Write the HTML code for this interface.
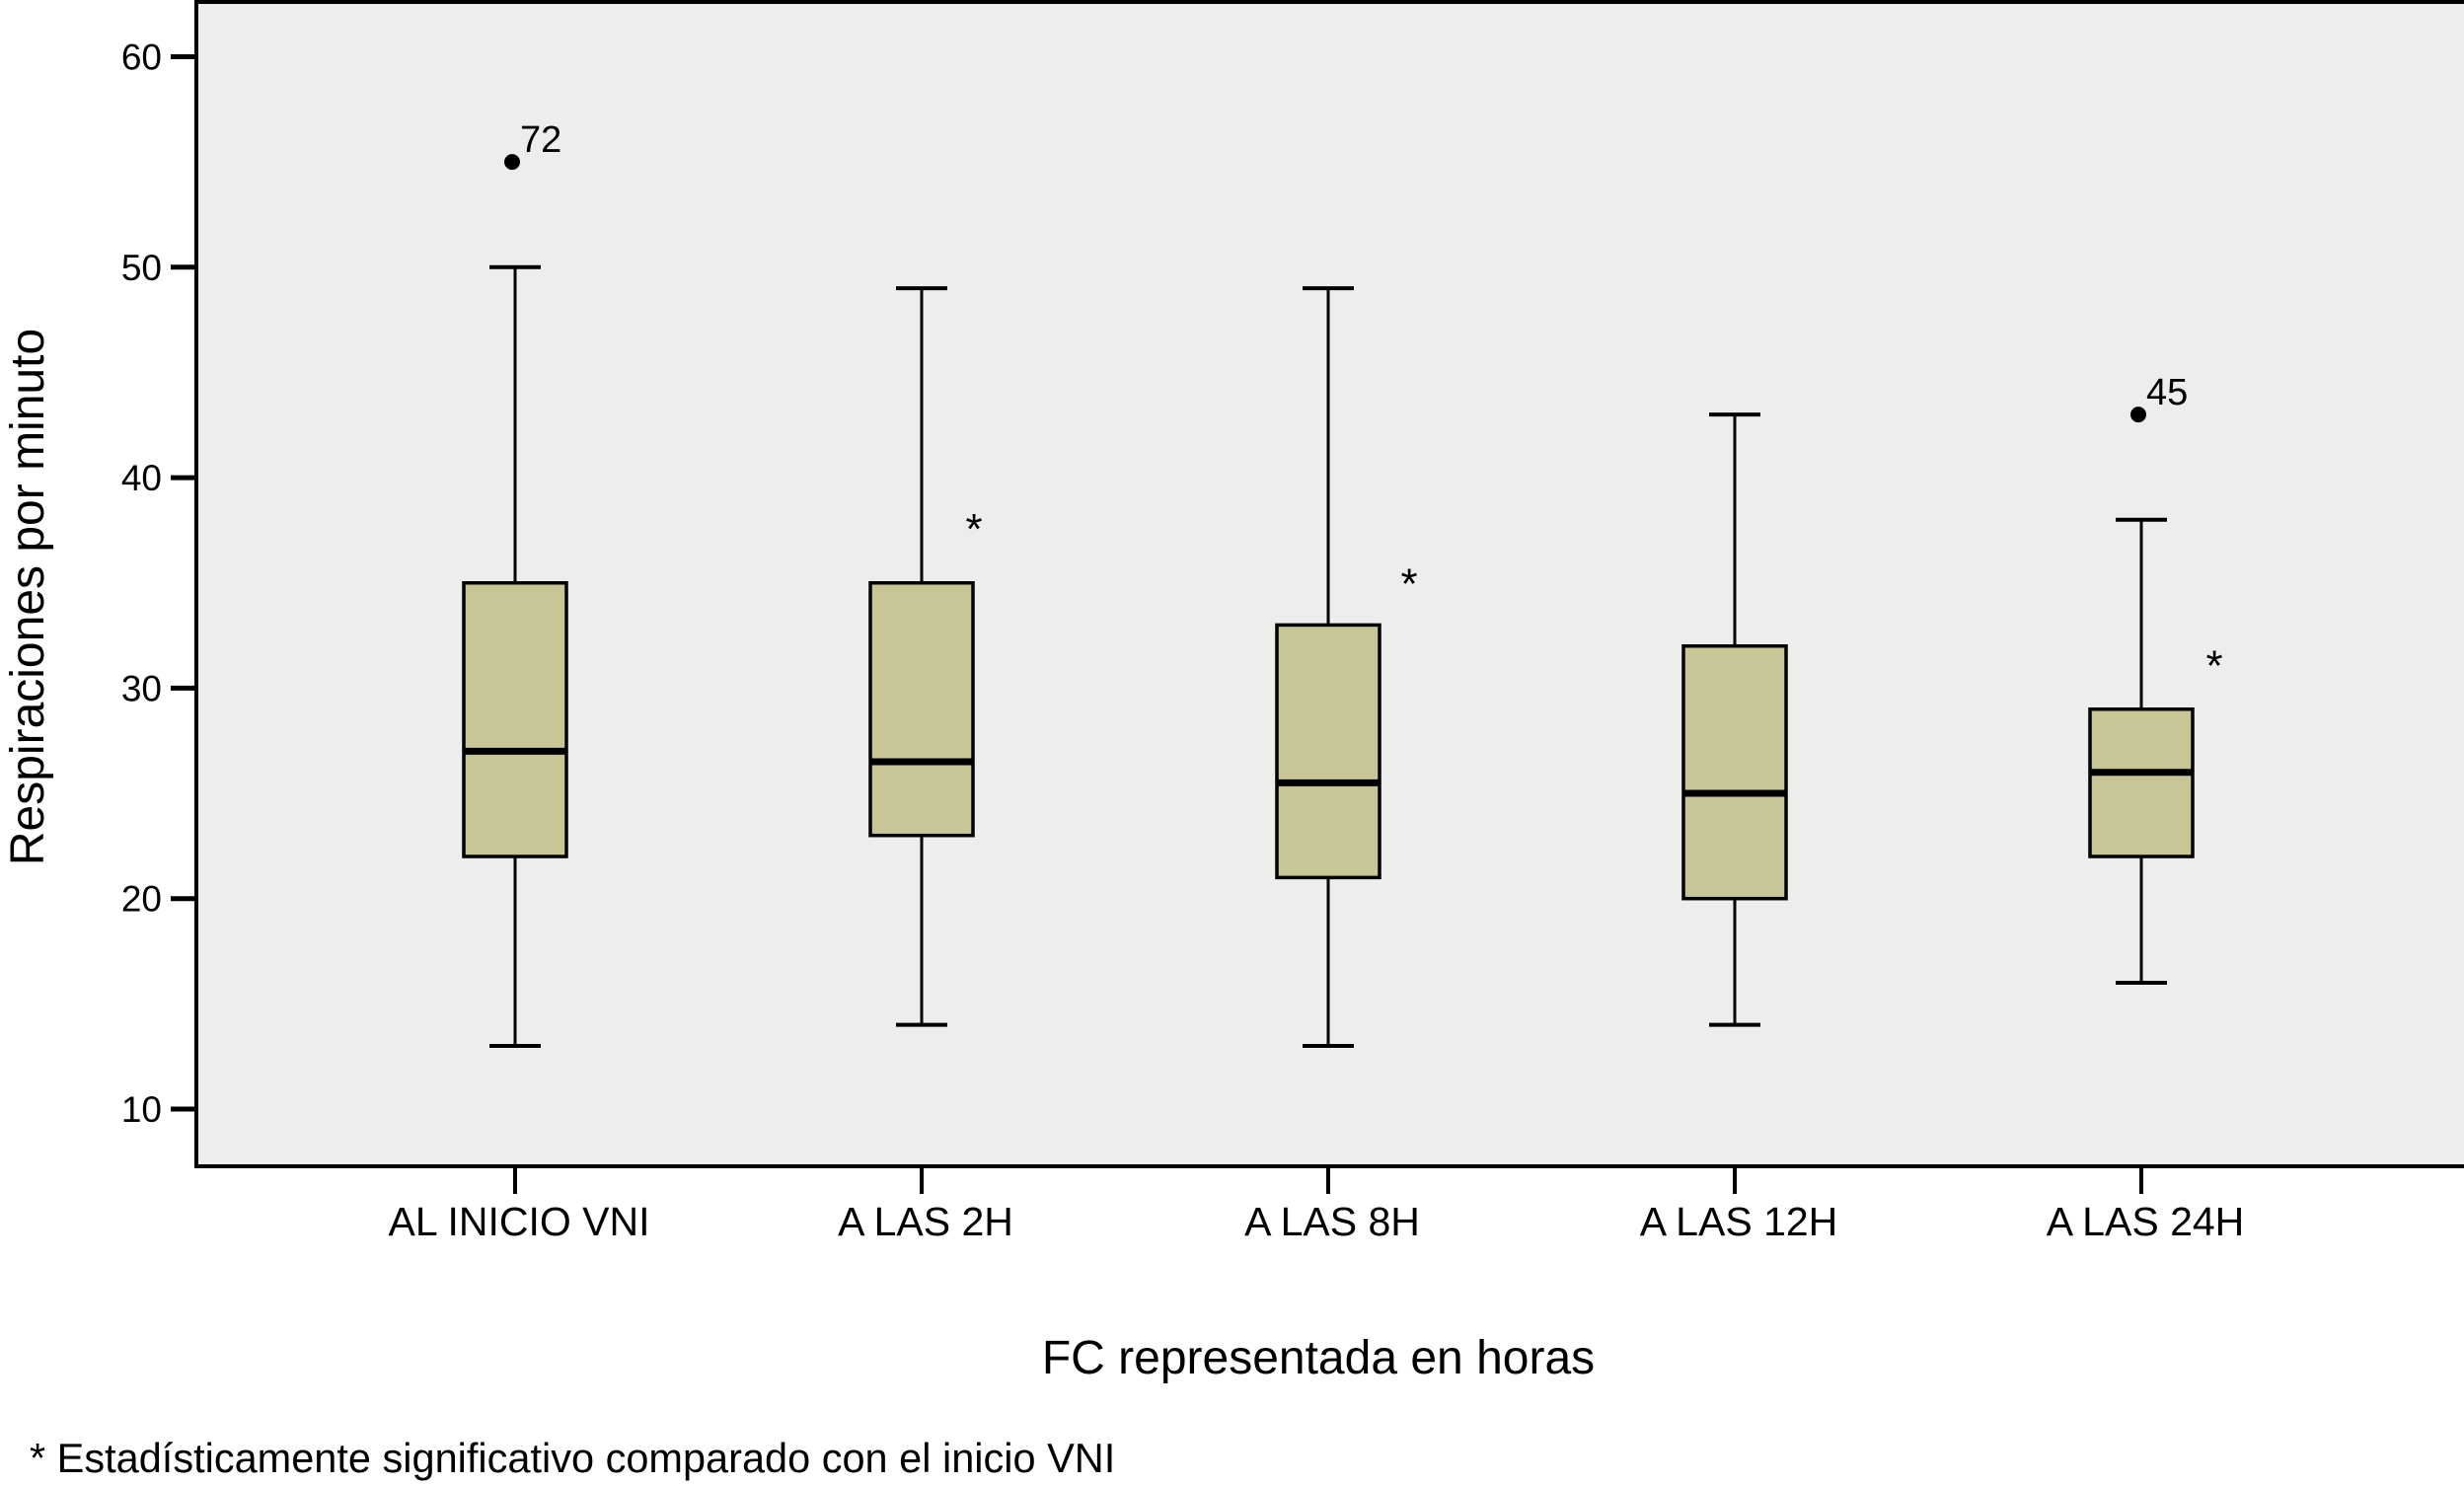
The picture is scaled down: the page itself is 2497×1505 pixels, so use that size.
<!DOCTYPE html>
<html><head><meta charset="utf-8"><style>
html,body{margin:0;padding:0;background:#fff;}
svg{display:block;font-family:"Liberation Sans",Arial,sans-serif;}
</style></head><body>
<svg id="chart" width="2497" height="1505" viewBox="0 0 2497 1505" xmlns="http://www.w3.org/2000/svg">
<rect x="199" y="2" width="2310" height="1180" fill="#ededeb" stroke="#000" stroke-width="4"/>
<g id="yaxis"></g>
<g id="xaxis"></g>
<g id="boxes"></g>
<text transform="translate(44,605) rotate(-90)" text-anchor="middle" font-size="48" fill="#000">Respiraciones por minuto</text>
<text x="1336" y="1392" text-anchor="middle" font-size="48" fill="#000">FC representada en horas</text>
<text x="30" y="1492" font-size="41.5" fill="#000">* Estadísticamente significativo comparado con el inicio VNI</text>
</svg>
<script>
const categories=["AL INICIO VNI","A LAS 2H","A LAS 8H","A LAS 12H","A LAS 24H"];
const whiskerLow=[13,14,13,14,16];
const q1=[22,23,21,20,22];
const medians=[27,26.5,25.5,25,26];
const q3=[35,35,33,32,29];
const whiskerHigh=[50,49,49,43,38];
const outlierValues=[55,null,null,null,43];
const outlierLabels=["72",null,null,null,"45"];
const starValues=[null,37.9,35.3,null,31.4];
const yTicks=[10,20,30,40,50,60];
const starOffsetPx=[0,53,82,0,74];

const NS="http://www.w3.org/2000/svg";
const y=v=>1124-(v-10)*21.33;
const x=i=>522+i*412;
function mk(tag,attrs,parent){const e=document.createElementNS(NS,tag);for(const k in attrs)e.setAttribute(k,attrs[k]);parent.appendChild(e);return e;}
const ya=document.getElementById('yaxis'),xa=document.getElementById('xaxis'),bx=document.getElementById('boxes');
yTicks.forEach(t=>{
  const l=mk('line',{x1:173,x2:199,y1:y(t),y2:y(t),stroke:'#000','stroke-width':5},ya);
  
  
  const tx=mk('text',{x:164,y:y(t)+13,'text-anchor':'end','font-size':37},ya);
  tx.textContent=t;
  
  
});
categories.forEach((c,i)=>{
  const cx=x(i);
  const l=mk('line',{x1:cx,x2:cx,y1:1182,y2:1210,stroke:'#000','stroke-width':4},xa);
  
  
  const tx=mk('text',{x:cx+4,y:1252,'text-anchor':'middle','font-size':41},xa);
  tx.textContent=c;
  
  
  const g=mk('g',{},bx);
  
  
  mk('line',{x1:cx,x2:cx,y1:y(whiskerLow[i]),y2:y(q1[i]),stroke:'#000','stroke-width':3},g);
  mk('line',{x1:cx,x2:cx,y1:y(q3[i]),y2:y(whiskerHigh[i]),stroke:'#000','stroke-width':3},g);
  mk('line',{x1:cx-26,x2:cx+26,y1:y(whiskerLow[i]),y2:y(whiskerLow[i]),stroke:'#000','stroke-width':4},g);
  mk('line',{x1:cx-26,x2:cx+26,y1:y(whiskerHigh[i]),y2:y(whiskerHigh[i]),stroke:'#000','stroke-width':4},g);
  mk('rect',{x:cx-52,y:y(q3[i]),width:104,height:y(q1[i])-y(q3[i]),fill:'#c8c596',stroke:'#000','stroke-width':3.5},g);
  mk('line',{x1:cx-52,x2:cx+52,y1:y(medians[i]),y2:y(medians[i]),stroke:'#000','stroke-width':7},g);
  if(outlierValues[i]!=null){
    const d=mk('circle',{cx:cx-3,cy:y(outlierValues[i]),r:8,fill:'#000'},g);
    
    
    const ol=mk('text',{x:cx+5,y:y(outlierValues[i])-10,'font-size':38},g);
    ol.textContent=outlierLabels[i];
    
    
  }
  if(starValues[i]!=null){
    const s=mk('text',{x:cx+starOffsetPx[i],y:y(starValues[i])+22,'font-size':44,'text-anchor':'middle'},g);
    s.textContent='*';
    
    
  }
});
</script>
</body></html>
